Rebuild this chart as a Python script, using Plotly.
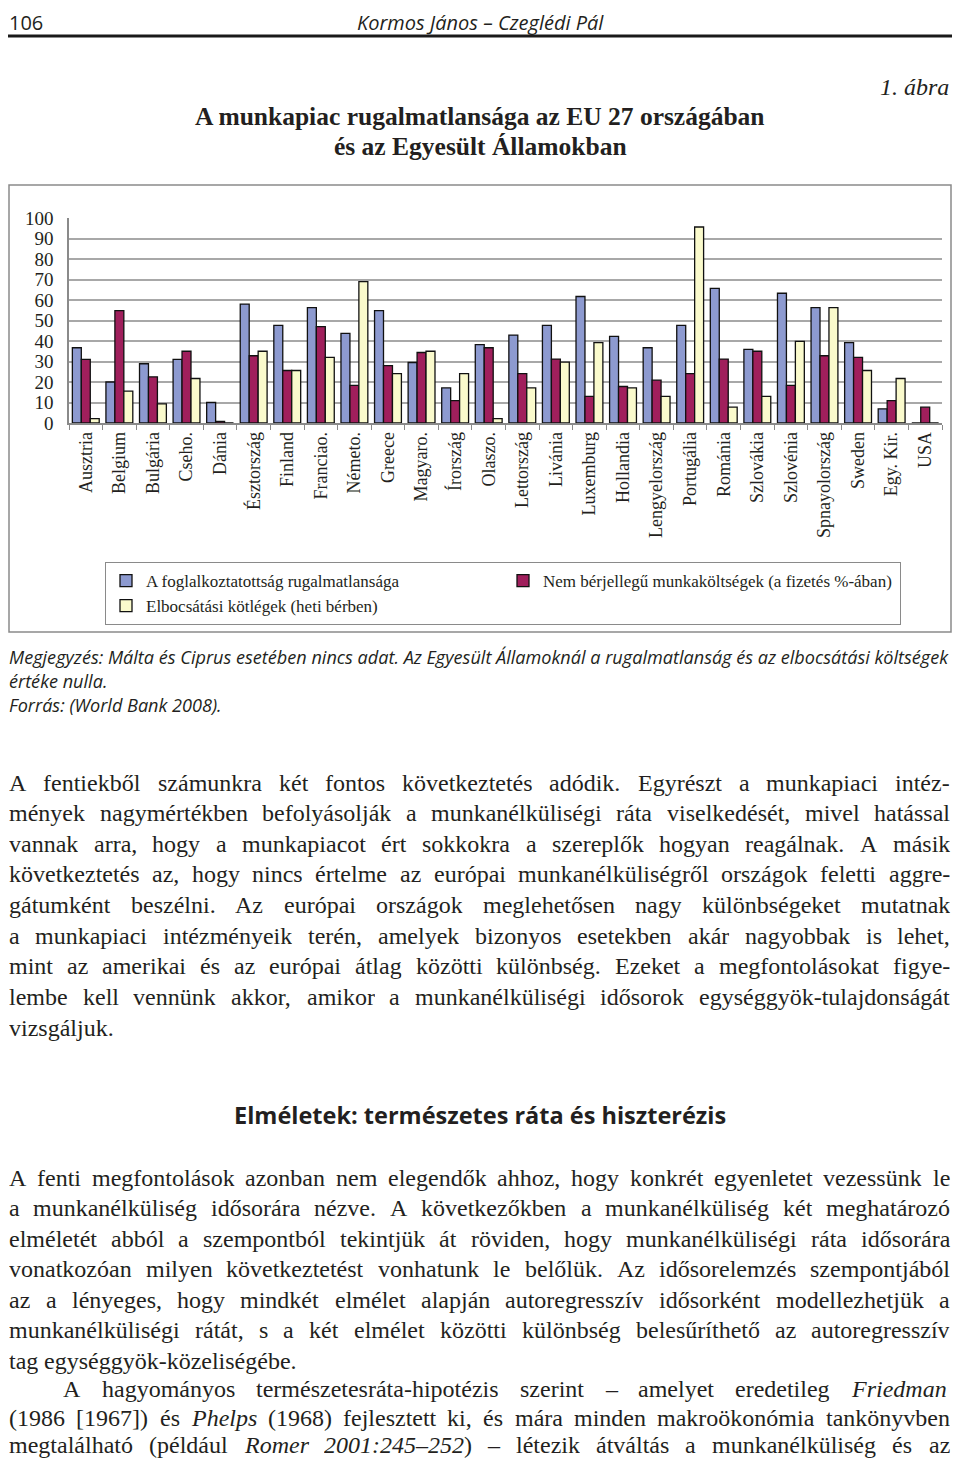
import unicodedata
import plotly.graph_objects as go

# ---------------- chart data ----------------
countries = ["Ausztria", "Belgium", "Bulgária", "Cseho.", "Dánia", "Észtország", "Finland",
             "Franciao.", "Németo.", "Greece", "Magyaro.", "Írország", "Olaszo.", "Lettország",
             "Livánia", "Luxemburg", "Hollandia", "Lengyelország", "Portugália", "Románia",
             "Szlovákia", "Szlovénia", "Spnayolország", "Sweden", "Egy. Kir.", "USA"]
rigidity = [36.7, 20, 28.9, 31, 10, 58, 47.6, 56.3, 43.7, 54.8, 29.5, 17.1, 38.2, 42.9,
            47.6, 61.7, 42.3, 36.7, 47.6, 65.7, 35.9, 63.3, 56.3, 39.2, 6.9, 0]
nonwage = [31, 54.8, 22.5, 35, 0.8, 32.8, 25.6, 47, 18.4, 28, 34.4, 10.9, 36.7, 24.1,
           31.2, 13, 17.8, 20.9, 24.1, 31.2, 35, 18.4, 32.8, 32, 10.9, 7.7]
severance = [2.1, 15.5, 9.3, 21.7, 0, 35, 25.6, 32, 69, 24.1, 35, 24.1, 2.1, 17.1,
             29.7, 39.2, 17.1, 13, 95.6, 7.7, 13, 39.8, 56.3, 25.6, 21.7, 0]
series_names = ["A foglalkoztatottság rugalmatlansága",
                "Nem bérjellegű munkaköltségek (a fizetés %-ában)",
                "Elbocsátási kötlégek (heti bérben)"]
y_ticks = [0, 10, 20, 30, 40, 50, 60, 70, 80, 90, 100]

# ---------------- page text ----------------
header_page = "106"
header_authors = "Kormos János – Czeglédi Pál"
figure_no = "1. ábra"
title_lines = ["A munkapiac rugalmatlansága az EU 27 országában", "és az Egyesült Államokban"]
note_lines = ["Megjegyzés: Málta és Ciprus esetében nincs adat. Az Egyesült Államoknál a rugalmatlanság és az elbocsátási költségek",
              "értéke nulla.",
              "Forrás: (World Bank 2008)."]
heading = "Elméletek: természetes ráta és hiszterézis"
para1 = ["A fentiekből számunkra két fontos következtetés adódik. Egyrészt a munkapiaci intéz-",
         "mények nagymértékben befolyásolják a munkanélküliségi ráta viselkedését, mivel hatással",
         "vannak arra, hogy a munkapiacot ért sokkokra a szereplők hogyan reagálnak. A másik",
         "következtetés az, hogy nincs értelme az európai munkanélküliségről országok feletti aggre-",
         "gátumként beszélni. Az európai országok meglehetősen nagy különbségeket mutatnak",
         "a munkapiaci intézményeik terén, amelyek bizonyos esetekben akár nagyobbak is lehet,",
         "mint az amerikai és az európai átlag közötti különbség. Ezeket a megfontolásokat figye-",
         "lembe kell vennünk akkor, amikor a munkanélküliségi idősorok egységgyök-tulajdonságát",
         "vizsgáljuk."]
para2 = ["A fenti megfontolások azonban nem elegendők ahhoz, hogy konkrét egyenletet vezessünk le",
         "a munkanélküliség idősorára nézve. A következőkben a munkanélküliség két meghatározó",
         "elméletét abból a szempontból tekintjük át röviden, hogy munkanélküliségi ráta idősorára",
         "vonatkozóan milyen következtetést vonhatunk le belőlük. Az idősorelemzés szempontjából",
         "az a lényeges, hogy mindkét elmélet alapján autoregresszív idősorként modellezhetjük a",
         "munkanélküliségi rátát, s a két elmélet közötti különbség belesűríthető az autoregresszív",
         "tag egységgyök-közeliségébe."]
para3 = ["A hagyományos természetesráta-hipotézis szerint – amelyet eredetileg <i>Friedman</i>",
         "(1986 [1967]) és <i>Phelps</i> (1968) fejlesztett ki, és mára minden makroökonómia tankönyvben",
         "megtalálható (például <i>Romer</i> <i>2001:245–252</i>) – létezik átváltás a munkanélküliség és az"]

# ---------------- geometry (page has an 8px body margin on every side) ----------------
OFF = 8
W, H = 960 - 2 * OFF, 1466 - 2 * OFF
PL, PR, PT, PB = 69, 942, 218, 423          # plot area in page pixels
ML, MT = PL - OFF, PT - OFF
PW, PH = PR - PL, PB - PT
MR, MB = W - ML - PW, H - MT - PH


def px2x(px):
    return (px - PL) / PW


def py2y(py):
    return (PB - py) / PH


SERIF = "Liberation Serif"
SANS = "Open Sans"
INK = "#231f20"

fig = go.Figure()
colors = ["#8d9ad0", "#a01f5c", "#fafacc"]
for name, vals, col in zip(series_names, [rigidity, nonwage, severance], colors):
    fig.add_trace(go.Bar(x=countries, y=vals, name=name,
                         marker=dict(color=col, line=dict(color="#111111", width=1.3))))

# ---------------- text helpers ----------------
ROMAN = {' ': 250, '(': 333, ')': 333, ',': 250, '-': 333, '.': 250, ':': 278, ';': 278,
         '[': 333, ']': 333, '%': 833, '–': 500,
         'A': 722, 'B': 667, 'C': 667, 'D': 722, 'E': 611, 'F': 556, 'G': 722, 'H': 722, 'I': 333,
         'J': 389, 'K': 722, 'L': 611, 'M': 889, 'N': 722, 'O': 722, 'P': 556, 'Q': 722, 'R': 667,
         'S': 556, 'T': 611, 'U': 722, 'V': 722, 'W': 944, 'X': 722, 'Y': 722, 'Z': 611,
         'a': 444, 'b': 500, 'c': 444, 'd': 500, 'e': 444, 'f': 333, 'g': 500, 'h': 500, 'i': 278,
         'j': 278, 'k': 500, 'l': 278, 'm': 778, 'n': 500, 'o': 500, 'p': 500, 'q': 500, 'r': 333,
         's': 389, 't': 278, 'u': 500, 'v': 500, 'w': 722, 'x': 500, 'y': 500, 'z': 444}
ITAL = {'a': 500, 'f': 278, 'k': 444, 'm': 722, 'r': 389, 'v': 444, 'w': 667, 'x': 444,
        'y': 444, 'z': 389, 'F': 611, 'P': 611, 'R': 611}


def char_w(c, italic):
    base = unicodedata.normalize('NFD', c)[0]
    if italic and base in ITAL:
        return ITAL[base]
    return ROMAN.get(base, 500)


def word_w(word, fs):
    tot, ital, i = 0, False, 0
    while i < len(word):
        if word.startswith('<i>', i):
            ital, i = True, i + 3
            continue
        if word.startswith('</i>', i):
            ital, i = False, i + 4
            continue
        tot += char_w(word[i], ital)
        i += 1
    return tot * fs / 1000.0


annotations = []


def add_text(text, px, py, size, family, xanchor="left", color=INK, weight="normal", style="normal",
             height=None):
    a = dict(text=text, x=px2x(px), y=py2y(py), xref="paper", yref="paper",
             xanchor=xanchor, yanchor="middle", showarrow=False, borderpad=0,
             font=dict(family=family, size=size, color=color, weight=weight, style=style))
    if height:
        a["height"] = height
    annotations.append(a)


BODY_FS = 24
LEFT, RIGHT = 8, 949


def add_para(lines, ys, x_first=LEFT, last_justified=False):
    for k, (line, y) in enumerate(zip(lines, ys)):
        x0 = x_first if k == 0 else LEFT
        words = line.split(' ')
        widths = [word_w(w, BODY_FS) for w in words]
        if '<i>' in words[-1]:
            widths[-1] += 4
        justify = (k < len(lines) - 1) or last_justified
        if justify and len(words) > 1:
            gap = (RIGHT - x0 - sum(widths)) / (len(words) - 1)
        else:
            gap = 0.25 * BODY_FS
        x = x0
        for w, ww in zip(words, widths):
            add_text(w, x, y, BODY_FS, SERIF, height=29)
            x += ww + gap


# header
add_text(header_page, LEFT, 22, 20, SANS)
add_text(header_authors, 480, 22, 20, SANS, xanchor="center", style="italic")
add_text(figure_no, 950, 87, 24, SERIF, xanchor="right", style="italic")
add_text(title_lines[0], 480, 116, 25.5, SERIF, xanchor="center", weight="bold")
add_text(title_lines[1], 480, 146, 25.5, SERIF, xanchor="center", weight="bold")
for i, t in enumerate(note_lines):
    add_text(t, LEFT, 657 + i * 24, 18.1, SANS, style="italic")
add_para(para1, [782 + k * 30.65 for k in range(len(para1))])
add_text(heading, 480, 1115, 23.5, SANS, xanchor="center", weight="bold")
add_para(para2, [1177 + k * 30.5 for k in range(len(para2))])
add_para(para3, [1388, 1417, 1444], x_first=62, last_justified=True)

shapes = [
    dict(type="line", xref="paper", yref="paper", x0=px2x(8), x1=px2x(952), y0=py2y(36), y1=py2y(36),
         line=dict(color="#1a1a1a", width=3)),
    dict(type="rect", xref="paper", yref="paper", x0=px2x(9), x1=px2x(951), y0=py2y(185), y1=py2y(632),
         line=dict(color="#8a8a8a", width=1.5)),
]

fig.update_layout(
    width=W, height=H, margin=dict(l=ML, r=MR, t=MT, b=MB, autoexpand=False),
    paper_bgcolor="white", plot_bgcolor="white",
    barmode="group", bargap=0.2, bargroupgap=0,
    showlegend=True,
    legend=dict(orientation="h", x=px2x(105), y=py2y(562), xanchor="left", yanchor="top",
                xref="paper", yref="paper",
                entrywidth=352, entrywidthmode="pixels", itemwidth=30,
                bgcolor="white", bordercolor="#8a8a8a", borderwidth=1,
                font=dict(family=SERIF, size=17, color=INK), traceorder="normal"),
    xaxis=dict(type="category", showgrid=False, showline=True, linecolor="#8a8a8a", linewidth=1.5,
               ticks="outside", tickson="boundaries", ticklen=5, tickcolor="#8a8a8a", tickwidth=1,
               tickangle=-90, tickfont=dict(family=SERIF, size=18, color=INK)),
    yaxis=dict(range=[0, 100], tickvals=y_ticks, showgrid=True, gridcolor="#a8a8a8", gridwidth=1.5,
               showline=True, linecolor="#8a8a8a", linewidth=1.5, zeroline=False, ticks="",
               ticklabelstandoff=10, tickfont=dict(family=SERIF, size=19, color=INK)),
    annotations=annotations,
    shapes=shapes,
)

fig.write_html("out.html")
